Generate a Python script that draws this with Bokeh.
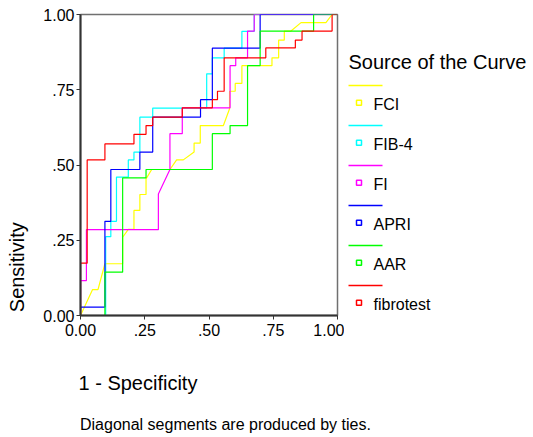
from bokeh.plotting import figure
from bokeh.models import Range1d, FixedTicker
from bokeh.layouts import row, column
from bokeh.core.properties import value
from bokeh.embed import file_html
from bokeh.resources import INLINE
import math

FONT = "Liberation Sans"

# ---- data (1 - specificity, sensitivity) ----
fci_x = [0, 0.047, 0.068, 0.095, 0.164, 0.164, 0.186, 0.208, 0.208, 0.231, 0.231, 0.255, 0.255, 0.277,
         0.348, 0.374, 0.400, 0.442, 0.442, 0.466, 0.466, 0.556, 0.580, 0.580, 0.602, 0.602, 0.628, 0.628,
         0.745, 0.745, 0.771, 0.771, 0.793, 0.793, 0.819, 0.858, 0.955, 0.979, 1.0]
fci_y = [0, 0.086, 0.086, 0.172, 0.172, 0.260, 0.286, 0.286, 0.349, 0.349, 0.402, 0.402, 0.454, 0.485,
         0.485, 0.517, 0.517, 0.543, 0.573, 0.573, 0.631, 0.631, 0.687, 0.745, 0.745, 0.771, 0.771, 0.830,
         0.830, 0.856, 0.856, 0.915, 0.915, 0.945, 0.945, 0.973, 0.973, 1.0, 1.0]

fib4_x = [0, 0.098, 0.098, 0.118, 0.118, 0.140, 0.140, 0.186, 0.186, 0.208, 0.208, 0.231, 0.231, 0.281,
          0.281, 0.491, 0.491, 0.513, 0.513, 0.559, 0.559, 0.628, 0.628, 0.676, 0.676, 1.0]
fib4_y = [0, 0, 0.262, 0.262, 0.313, 0.313, 0.460, 0.460, 0.517, 0.517, 0.543, 0.543, 0.659, 0.659,
          0.689, 0.689, 0.803, 0.803, 0.856, 0.856, 0.888, 0.888, 0.944, 0.944, 1.0, 1.0]

fi_x = [0, 0, 0.023, 0.023, 0.303, 0.303, 0.348, 0.348, 0.396, 0.396, 0.582, 0.582, 0.604, 0.604,
        0.650, 0.650, 0.676, 0.676, 1.0]
fi_y = [0, 0.116, 0.116, 0.285, 0.285, 0.404, 0.485, 0.604, 0.604, 0.690, 0.690, 0.830, 0.830, 0.856,
        0.856, 0.945, 0.945, 1.0, 1.0]

apri_x = [0, 0, 0.095, 0.095, 0.118, 0.118, 0.231, 0.231, 0.281, 0.281, 0.467, 0.467, 0.513, 0.513,
          0.699, 0.699, 1.0]
apri_y = [0, 0.028, 0.028, 0.313, 0.313, 0.485, 0.485, 0.543, 0.543, 0.659, 0.659, 0.717, 0.717, 0.888,
          0.888, 1.0, 1.0]

aar_x = [0, 0.095, 0.095, 0.164, 0.164, 0.255, 0.255, 0.513, 0.513, 0.582, 0.582, 0.650, 0.650, 0.699,
         0.699, 0.907, 0.907, 1.0]
aar_y = [0, 0, 0.144, 0.144, 0.457, 0.457, 0.485, 0.485, 0.604, 0.604, 0.631, 0.631, 0.830, 0.830,
         0.945, 0.945, 1.0, 1.0]

fibrotest_x = [0, 0, 0.026, 0.026, 0.095, 0.095, 0.208, 0.208, 0.255, 0.255, 0.281, 0.281, 0.396, 0.396,
               0.513, 0.513, 0.533, 0.533, 0.559, 0.559, 0.721, 0.721, 0.836, 0.836, 0.862, 0.862, 0.979,
               0.979, 1.0]
fibrotest_y = [0, 0.174, 0.174, 0.517, 0.517, 0.570, 0.570, 0.602, 0.602, 0.631, 0.631, 0.659, 0.659, 0.690,
               0.690, 0.717, 0.717, 0.745, 0.745, 0.856, 0.856, 0.889, 0.889, 0.915, 0.915, 0.945, 0.945,
               1.0, 1.0]

series_names = ["FCI", "FIB-4", "FI", "APRI", "AAR", "fibrotest"]
series_x = [fci_x, fib4_x, fi_x, apri_x, aar_x, fibrotest_x]
series_y = [fci_y, fib4_y, fi_y, apri_y, aar_y, fibrotest_y]
series_colors = ["#FFFF00", "#00FFFF", "#FF00FF", "#0000FF", "#00FF00", "#FF0000"]

tick_values = [0, 0.25, 0.5, 0.75, 1.0]
tick_labels = ["0.00", ".25", ".50", ".75", "1.00"]

x_title = "1 - Specificity"
y_title = "Sensitivity"
legend_title = "Source of the Curve"
footnote = "Diagonal segments are produced by ties."

# ---- layout geometry (page pixels) ----
PAGE_W, PAGE_H = 533, 437
W_LEFT = 40
W_MAIN = 344 - W_LEFT
W_LEG = PAGE_W - W_LEFT - W_MAIN
H_TOP = 350
B_TOP, B_BOTTOM = 14, 35          # frame: page y 14..315
FRAME_BOTTOM = H_TOP - B_BOTTOM   # 315


def blank(fig):
    fig.xgrid.visible = False
    fig.ygrid.visible = False
    fig.outline_line_color = None
    fig.background_fill_color = "white"
    fig.border_fill_color = "white"


# ---- left strip with the y title ----
lf = figure(width=W_LEFT, height=H_TOP, x_range=Range1d(0, W_LEFT), y_range=Range1d(0, FRAME_BOTTOM - B_TOP),
            toolbar_location=None, output_backend="svg", x_axis_type=None, y_axis_type=None,
            min_border_left=0, min_border_right=0, min_border_top=B_TOP, min_border_bottom=B_BOTTOM)
blank(lf)
lf.text(x=[16.2], y=[FRAME_BOTTOM - 266.7], text=[y_title], angle=math.pi / 2,
        text_font=value(FONT), text_font_size="20px", text_color="#000000",
        text_align="center", text_baseline="middle")

# ---- main plot ----
p = figure(width=W_MAIN, height=H_TOP, x_range=Range1d(0, 1), y_range=Range1d(0, 1),
           toolbar_location=None, output_backend="svg",
           min_border_left=80 - W_LEFT, min_border_right=7, min_border_top=B_TOP, min_border_bottom=B_BOTTOM)
p.xgrid.visible = False
p.ygrid.visible = False
p.outline_line_color = "#707070"
p.outline_line_width = 1.5
p.background_fill_color = "white"
p.border_fill_color = "white"

for ax in (p.xaxis[0], p.yaxis[0]):
    ax.ticker = FixedTicker(ticks=tick_values)
    ax.major_label_overrides = {v: l for v, l in zip(tick_values, tick_labels)}
    ax.axis_line_color = "#333333"
    ax.axis_line_width = 2
    ax.major_tick_line_color = "#333333"
    ax.major_tick_line_width = 1
    ax.major_tick_out = 4
    ax.major_tick_in = 0
    ax.minor_tick_line_color = None
    ax.major_label_text_font = FONT
    ax.major_label_text_font_size = "16px"
    ax.major_label_text_color = "#000000"
p.yaxis[0].major_label_standoff = 2
p.xaxis[0].major_label_standoff = 4

for xs, ys, c in zip(series_x, series_y, series_colors):
    p.line(x=xs, y=ys, line_color=c, line_width=1.2)

# ---- legend panel (frame aligned with the main frame) ----
lg = figure(width=W_LEG, height=H_TOP, x_range=Range1d(0, W_LEG), y_range=Range1d(FRAME_BOTTOM, B_TOP),
            toolbar_location=None, output_backend="svg", x_axis_type=None, y_axis_type=None,
            min_border_left=0, min_border_right=0, min_border_top=B_TOP, min_border_bottom=B_BOTTOM)
blank(lg)
lg.text(x=[4], y=[61.2], text=[legend_title], text_font=value(FONT), text_font_size="20px",
        text_color="#000000", text_align="left", text_baseline="middle")
n = len(series_names)
line_y = [85 + 40 * i for i in range(n)]
sq_y = [102.2 + 40 * i for i in range(n)]
lab_y = [104.2 + 40 * i for i in range(n)]
lg.segment(x0=[4] * n, y0=line_y, x1=[38] * n, y1=line_y, line_color=series_colors, line_width=1.3)
lg.scatter(x=[14.5] * n, y=sq_y, marker="square", size=5, fill_color="white",
           line_color=series_colors, line_width=1.5)
lg.text(x=[29] * n, y=lab_y, text=series_names, text_font=value(FONT), text_font_size="16px",
        text_color="#000000", text_align="left", text_baseline="middle")

# ---- bottom panel: x title and footnote ----
H_FOOT = PAGE_H - H_TOP
ft = figure(width=PAGE_W, height=H_FOOT, x_range=Range1d(0, PAGE_W), y_range=Range1d(H_FOOT, 0),
            toolbar_location=None, output_backend="svg", x_axis_type=None, y_axis_type=None,
            min_border=0)
blank(ft)
ft.text(x=[78], y=[382.2 - H_TOP], text=[x_title], text_font=value(FONT), text_font_size="20px",
        text_color="#000000", text_align="left", text_baseline="middle")
ft.text(x=[79.5], y=[423.8 - H_TOP], text=[footnote], text_font=value(FONT), text_font_size="16px",
        text_color="#000000", text_align="left", text_baseline="middle")

layout = column(row(lf, p, lg), ft)
open("out.html", "w").write(file_html(layout, INLINE))
